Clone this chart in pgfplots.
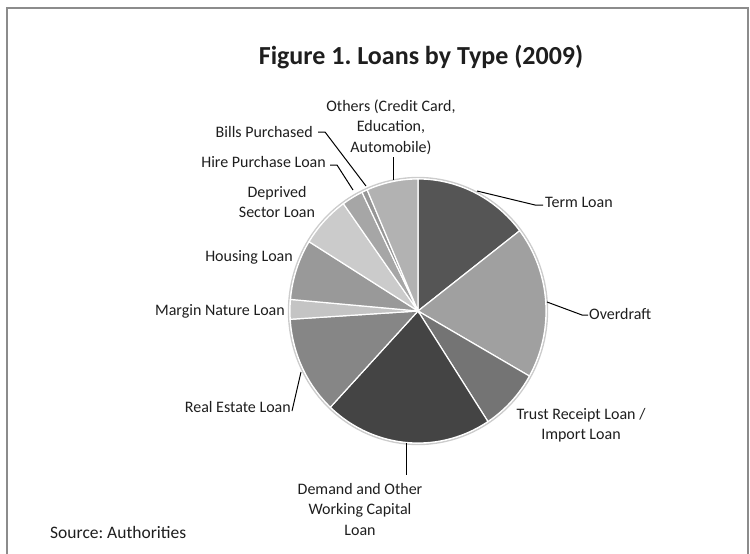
\documentclass[border=0pt]{standalone}
\usepackage{pgfplots}
\pgfplotsset{compat=1.18}
\usepackage{pgfplotstable}
\usepackage{fontspec}
\setmainfont{Carlito}
\frenchspacing

% share of each loan type, percent, clockwise from 12 o'clock
\pgfplotstableread{
id name value
0 TermLoan 14.6
1 Overdraft 18.6
2 TrustReceipt 7.6
3 DemandWorkingCapital 21.2
4 RealEstate 12.0
5 MarginNature 2.4
6 Housing 7.4
7 DeprivedSector 6.3
8 HirePurchase 2.7
9 BillsPurchased 0.7
10 Others 6.5
}\loans

\definecolor{slice0}{HTML}{555555}
\definecolor{slice1}{HTML}{A0A0A0}
\definecolor{slice2}{HTML}{747474}
\definecolor{slice3}{HTML}{444444}
\definecolor{slice4}{HTML}{868686}
\definecolor{slice5}{HTML}{C4C4C4}
\definecolor{slice6}{HTML}{999999}
\definecolor{slice7}{HTML}{CBCBCB}
\definecolor{slice8}{HTML}{A6A6A6}
\definecolor{slice9}{HTML}{969696}
\definecolor{slice10}{HTML}{B2B2B2}
\definecolor{txt}{HTML}{1E1E1E}

\newcommand\lbl{\fontsize{16bp}{20.5bp}\selectfont}

\begin{document}
\begin{tikzpicture}
% start and end angle of every slice
\gdef\cum{0}
\foreach \i in {0,...,10}{
  \pgfplotstablegetelem{\i}{value}\of\loans
  \pgfmathsetmacro\hi{90-3.6*\cum}
  \pgfmathsetmacro\newcum{\cum+\pgfplotsretval}
  \pgfmathsetmacro\lo{90-3.6*\newcum}
  \expandafter\xdef\csname lo\i\endcsname{\lo}
  \expandafter\xdef\csname hi\i\endcsname{\hi}
  \xdef\cum{\newcum}
}
\begin{axis}[
    at={(0,0)}, anchor=south west,
    width=750bp, height=554bp, scale only axis,
    xmin=0, xmax=750, ymin=0, ymax=554, y dir=reverse,
    hide axis, clip=false,
  ]
% soft rim
\addplot[draw=black!20, line width=1.4bp, no markers, domain=0:360, samples=145, variable=\t]
  ({418+129.5*cos(\t)},{311-133.5*sin(\t)});
\pgfplotsinvokeforeach{0,...,10}{
  \addplot[fill=slice#1, draw=white, line width=1.2bp, no markers,
    domain=\csname lo#1\endcsname:\csname hi#1\endcsname, samples=40, variable=\t]
    ({418+128*cos(\t)},{311-132*sin(\t)}) -- (418,311) -- cycle;
}

% frame
\draw[black!45, line width=1.2bp] (7,570) -- (7,8) -- (748,8) -- (748,570);

% leader lines
\begin{scope}[black, line width=1bp]
\draw (477,191) -- (535,205) -- (543,205);
\draw (547,302) -- (582,315) -- (588,315);
\draw (301,372) -- (292,411);
\draw (406,443) -- (406,475);
\draw (393,157) -- (393,180);
\draw (318,132) -- (325,132) -- (366,186);
\draw (330,165) -- (337,165) -- (353,190);
\end{scope}

\begin{scope}[every node/.style={text=txt, inner sep=0pt}]
\node[font=\fontsize{26bp}{30bp}\selectfont\bfseries] at (421,57) {Figure 1. Loans by Type (2009)};
\node[anchor=west, font=\lbl] at (545,202) {Term Loan};
\node[anchor=west, font=\lbl] at (589,314) {Overdraft};
\node[align=center, font=\lbl] at (581,425) {Trust Receipt Loan /\\Import Loan};
\node[align=center, font=\lbl] at (360,509) {Demand and Other\\Working Capital\\Loan};
\node[anchor=east, font=\lbl] at (291,407) {Real Estate Loan};
\node[anchor=east, font=\lbl] at (285,311) {Margin Nature Loan};
\node[anchor=east, font=\lbl] at (293,257) {Housing Loan};
\node[align=center, font=\lbl] at (277,202) {Deprived\\Sector Loan};
\node[anchor=east, font=\lbl] at (326,162) {Hire Purchase Loan};
\node[anchor=east, font=\lbl] at (313,132) {Bills Purchased};
\node[align=center, font=\lbl] at (391,127) {Others (Credit Card,\\Education,\\Automobile)};
\node[anchor=west, font=\fontsize{17.5bp}{21bp}\selectfont] at (50,532) {Source: Authorities};
\end{scope}
\end{axis}
\pgfresetboundingbox
\useasboundingbox (0,0) rectangle (750bp,554bp);
\end{tikzpicture}
\end{document}
